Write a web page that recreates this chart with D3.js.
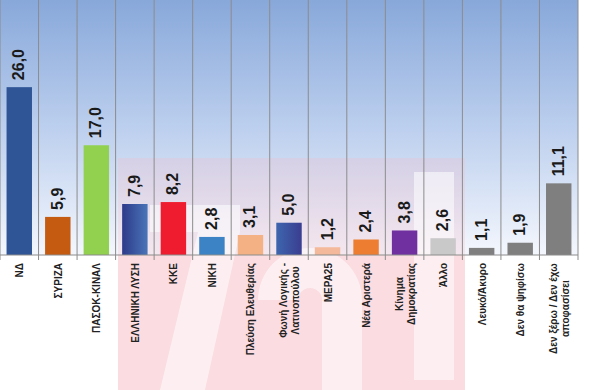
<!DOCTYPE html>
<html>
<head>
<meta charset="utf-8">
<script src="https://cdn.jsdelivr.net/npm/d3@7"></script>
<style>
body { margin: 0; background: #fff; }
svg { display: block; }
</style>
</head>
<body>
<svg id="chart" width="600" height="390"></svg>
<script>
var parties = [
  ["ΝΔ"],
  ["ΣΥΡΙΖΑ"],
  ["ΠΑΣΟΚ-ΚΙΝΑΛ"],
  ["ΕΛΛΗΝΙΚΗ ΛΥΣΗ"],
  ["ΚΚΕ"],
  ["ΝΙΚΗ"],
  ["Πλεύση Ελευθερίας"],
  ["Φωνή Λογικής -", "Λατινοπούλου"],
  ["ΜΕΡΑ25"],
  ["Νέα Αριστερά"],
  ["Κίνημα", "Δημοκρατίας"],
  ["Άλλο"],
  ["Λευκό/Άκυρο"],
  ["Δεν θα ψηφίσω"],
  ["Δεν ξέρω / Δεν έχω", "αποφασίσει"]
];
var percents = [26.0, 5.9, 17.0, 7.9, 8.2, 2.8, 3.1, 5.0, 1.2, 2.4, 3.8, 2.6, 1.1, 1.9, 11.1];
var barColors = ["#2f5597", "#c55a11", "#92d050", "url(#gLysi)", "#ee1c2e", "#3b83c4", "#f4b183",
  "url(#gFoni)", "#f4b89a", "#ed7d31", "#7030a0", "#c9c9c9", "#7f7f7f", "#7f7f7f", "#7f7f7f"];

var svg = d3.select("#chart");
var plotLeft = 0, plotRight = 578, plotTop = 0, base = 255;

var defs = svg.append("defs");
var bg = defs.append("linearGradient").attr("id", "bg")
  .attr("x1", 0).attr("y1", 0).attr("x2", 0).attr("y2", 1);
bg.append("stop").attr("offset", "0%").attr("stop-color", "#88a8da");
bg.append("stop").attr("offset", "50%").attr("stop-color", "#bccfee");
bg.append("stop").attr("offset", "100%").attr("stop-color", "#f4f7fd");

function hGrad(id, c1, c2) {
  var g = defs.append("linearGradient").attr("id", id)
    .attr("x1", 0).attr("y1", 0).attr("x2", 1).attr("y2", 0);
  g.append("stop").attr("offset", "0%").attr("stop-color", c1);
  g.append("stop").attr("offset", "100%").attr("stop-color", c2);
}
hGrad("gLysi", "#2d3a8a", "#4a74b8");
hGrad("gFoni", "#3d66ae", "#3a3d90");

var x = d3.scaleBand()
  .domain(d3.range(parties.length))
  .range([plotLeft, plotRight])
  .paddingInner(0.34)
  .paddingOuter(0.17);

var y = d3.scaleLinear()
  .domain([0, 39.5])
  .range([base, plotTop]);

// plot background
svg.append("rect")
  .attr("x", plotLeft).attr("y", plotTop)
  .attr("width", plotRight - plotLeft).attr("height", base - plotTop)
  .attr("fill", "url(#bg)");

// faint watermark (pink block with white shapes)
svg.append("rect")
  .attr("x", 118).attr("y", 158).attr("width", 347).attr("height", 97)
  .attr("fill", "#f7b8c2").attr("opacity", 0.25);
svg.append("rect")
  .attr("x", 118).attr("y", 255).attr("width", 347).attr("height", 135)
  .attr("fill", "#f6c0c8").attr("opacity", 0.55);
svg.append("path")
  .attr("d", "M150,205 L240,205 L240,232 L205,390 L160,390 L198,232 L150,232 Z")
  .attr("fill", "#fff").attr("opacity", 0.55);
svg.append("path")
  .attr("d", "M258,300 A52,52 0 1 1 362,300 L362,390 L322,390 L322,300 A12,12 0 0 0 298,300 Z")
  .attr("fill", "#fff").attr("opacity", 0.55);
svg.append("rect")
  .attr("x", 414).attr("y", 172).attr("width", 40).attr("height", 208)
  .attr("fill", "#fff").attr("opacity", 0.55);

// vertical gridlines at band edges
var step = x.step();
var edges = d3.range(parties.length + 1).map(function(i){ return plotLeft + i * step; });
svg.append("g").selectAll("line")
  .data(edges)
  .enter().append("line")
  .attr("x1", function(d){ return d; })
  .attr("x2", function(d){ return d; })
  .attr("y1", plotTop).attr("y2", base + 5)
  .attr("stroke", "#8c8c8c")
  .attr("stroke-width", 1);

// bars
svg.append("g").selectAll("rect")
  .data(percents)
  .enter().append("rect")
  .attr("x", function(d, i){ return x(i); })
  .attr("y", function(d){ return y(d); })
  .attr("width", x.bandwidth())
  .attr("height", function(d){ return base - y(d); })
  .attr("fill", function(d, i){ return barColors[i]; });

// baseline
svg.append("line")
  .attr("x1", plotLeft).attr("x2", plotRight)
  .attr("y1", base).attr("y2", base)
  .attr("stroke", "#8c8c8c");

// value labels
svg.append("g").selectAll("text")
  .data(percents)
  .enter().append("text")
  .attr("transform", function(d, i){
    var cx = x(i) + x.bandwidth() / 2 + 5;
    return "translate(" + cx + "," + (y(d) - 7) + ") rotate(-90)";
  })
  .attr("font-family", "Liberation Sans, sans-serif")
  .attr("font-weight", "bold")
  .attr("font-size", 16)
  .attr("fill", "#1a1a1a")
  .text(function(d){ return d.toFixed(1).replace(".", ","); });

// category labels
var cat = svg.append("g").selectAll("text")
  .data(parties)
  .enter().append("text")
  .attr("transform", function(d, i){
    var cx = x(i) + x.bandwidth() / 2 + 4 - (d.length - 1) * 6;
    return "translate(" + cx + "," + (base + 8) + ") rotate(-90)";
  })
  .attr("text-anchor", function(d){ return d.length > 1 ? "middle" : "end"; })
  .attr("font-family", "Liberation Sans, sans-serif")
  .attr("font-weight", "bold")
  .attr("font-size", 10)
  .attr("fill", "#222");

cat.each(function(d){
  var t = d3.select(this);
  d.forEach(function(line, k){
    t.append("tspan")
      .attr("x", 0)
      .attr("dy", k === 0 ? 0 : 12)
      .text(line);
  });
});
// multi-line labels: centred block whose longest line ends at the axis
cat.filter(function(d){ return d.length > 1; })
  .each(function(d){
    var bb = this.getBBox();
    d3.select(this).selectAll("tspan").attr("x", -bb.width / 2);
  });
</script>
</body>
</html>
